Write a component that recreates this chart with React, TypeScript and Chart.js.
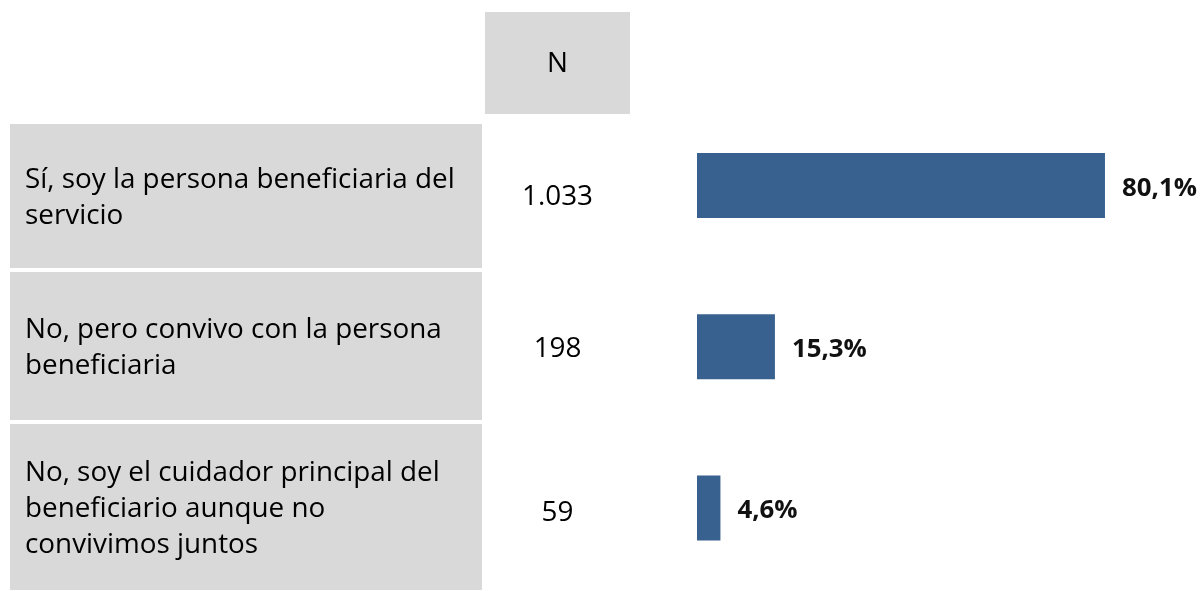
import React, { useEffect, useRef } from "react";
import { Chart, registerables } from "chart.js";

Chart.register(...registerables);

// ---- Data ----
const categories: string[][] = [
  ["Sí, soy la persona beneficiaria del", "servicio"],
  ["No, pero convivo con la persona", "beneficiaria"],
  ["No, soy el cuidador principal del", "beneficiario aunque no", "convivimos juntos"],
];
const nHeader = "N";
const nValues: string[] = ["1.033", "198", "59"];
const percentages: number[] = [80.1, 15.3, 4.6];
const percentLabels: string[] = ["80,1%", "15,3%", "4,6%"];

// ---- Layout ----
const W = 1201;
const H = 591;
const GREY = "#d9d9d9";
const BAR = "#386190";
const FAMILY = '"Open Sans", "Noto Sans", sans-serif';
const ROWS: [number, number][] = [
  [124, 268],
  [272, 420],
  [424, 590],
];

const tablePlugin = {
  id: "tablePlugin",
  beforeDraw(chart: any) {
    const ctx = chart.ctx as CanvasRenderingContext2D;
    ctx.save();
    ctx.fillStyle = "#ffffff";
    ctx.fillRect(0, 0, W, H);
    ctx.fillStyle = GREY;
    ctx.fillRect(485, 12, 145, 102);
    ROWS.forEach(([t, b]) => ctx.fillRect(10, t, 472, b - t));

    ctx.font = `100px ${FAMILY}`;
    const w = ctx.measureText(categories[0][0]).width;
    const size = (100 * 430) / w;
    ctx.font = `${size}px ${FAMILY}`;
    ctx.fillStyle = "#000000";
    ctx.textBaseline = "middle";
    ctx.textAlign = "left";
    const lh = 36.4;
    categories.forEach((lines, i) => {
      const [t, b] = ROWS[i];
      const c = (t + b) / 2 + 2;
      lines.forEach((ln, j) => {
        ctx.fillText(ln, 25, c + (j - (lines.length - 1) / 2) * lh);
      });
    });
    ctx.textAlign = "center";
    ctx.fillText(nHeader, 557.5, 64);
    const nOff = [1, 3, 6];
    nValues.forEach((v, i) => {
      const [t, b] = ROWS[i];
      ctx.fillText(v, 557.5, (t + b) / 2 + nOff[i]);
    });
    ctx.restore();
  },
  afterDatasetsDraw(chart: any) {
    const ctx = chart.ctx as CanvasRenderingContext2D;
    const meta = chart.getDatasetMeta(0);
    ctx.save();
    ctx.font = `bold 100px ${FAMILY}`;
    const w = ctx.measureText(percentLabels[0]).width;
    const size = (100 * 75) / w;
    ctx.font = `bold ${size}px ${FAMILY}`;
    ctx.fillStyle = "#111111";
    ctx.textAlign = "left";
    ctx.textBaseline = "middle";
    meta.data.forEach((bar: any, i: number) => {
      ctx.fillText(percentLabels[i], bar.x + 17, bar.y + 3);
    });
    ctx.restore();
  },
};

export default function App() {
  const ref = useRef<HTMLCanvasElement | null>(null);
  useEffect(() => {
    if (!ref.current) return;
    const chart = new Chart(ref.current, {
      type: "bar",
      data: {
        labels: categories.map((c) => c.join(" ")),
        datasets: [
          {
            data: percentages,
            backgroundColor: BAR,
            borderWidth: 0,
            barPercentage: 0.403,
            categoryPercentage: 1,
          },
        ],
      },
      options: {
        indexAxis: "y",
        animation: false,
        responsive: false,
        layout: { padding: { left: 697, right: 45.6, top: 105, bottom: 2.5 } },
        scales: {
          x: { display: false, min: 0, max: 90, grid: { display: false } },
          y: { display: false, grid: { display: false } },
        },
        plugins: {
          legend: { display: false },
          tooltip: { enabled: false },
          title: { display: false },
        },
      },
      plugins: [tablePlugin],
    });
    return () => chart.destroy();
  }, []);
  return (
    <div style={{ position: "fixed", left: 0, top: 0, width: W, height: H, background: "#fff" }}>
      <canvas ref={ref} width={W} height={H} style={{ display: "block", width: W, height: H }} />
    </div>
  );
}
